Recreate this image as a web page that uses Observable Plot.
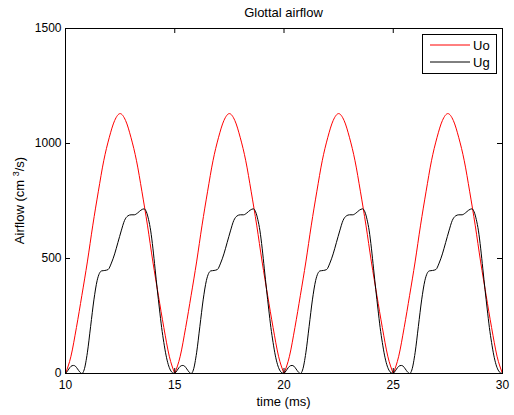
<!DOCTYPE html>
<html>
<head>
<meta charset="utf-8">
<script src="https://cdn.jsdelivr.net/npm/d3@7"></script>
<script src="https://cdn.jsdelivr.net/npm/@observablehq/plot@0.6"></script>
<style>
  html, body { margin: 0; padding: 0; background: #fff; }
  #chart svg { display: block; }
</style>
</head>
<body>
<div id="chart"></div>
<script>
// Start time (ms) of each glottal cycle shown; the pulse repeats every 5 ms.
const cycleStarts = [10, 15, 20, 25];

// Uo: open-phase airflow within one cycle (time offset in ms, cm^3/s)
const uoOffsets = [0, 0.25, 0.5, 0.75, 1.0, 1.25, 1.5, 1.75, 2.0, 2.25, 2.5,
                   2.75, 3.0, 3.25, 3.5, 3.75, 4.0, 4.25, 4.5, 4.75, 5.0];
const uoValues  = [0, 75, 200, 340, 485, 645, 790, 925, 1025, 1100, 1130,
                   1100, 1025, 925, 790, 645, 485, 340, 200, 75, 0];

// Ug: glottal airflow within one cycle (time offset in ms, cm^3/s)
const ugOffsets = [0, 0.1, 0.2, 0.3, 0.37, 0.45, 0.55, 0.65, 0.75, 0.85,
                   1.0, 1.15, 1.3, 1.45, 1.55, 1.65, 1.8, 1.95, 2.1, 2.25,
                   2.4, 2.55, 2.7, 2.85, 3.0, 3.15, 3.3, 3.45, 3.6, 3.7,
                   3.8, 3.9, 4.0, 4.1, 4.2, 4.3, 4.4, 4.5, 4.6, 4.7,
                   4.8, 4.9, 5.0];
const ugValues  = [0, 12, 26, 34, 35, 32, 20, 7, 0, 15,
                   90, 205, 320, 405, 435, 446, 448, 452, 480, 520,
                   570, 620, 665, 685, 690, 690, 698, 710, 716, 703,
                   670, 620, 545, 455, 365, 280, 200, 135, 80, 40,
                   15, 3, 0];

// Axis ticks
const xTicks = [10, 15, 20, 25, 30];
const yTicks = [0, 500, 1000, 1500];

function cycleRows(offsets, values) {
  return cycleStarts.flatMap((start, c) =>
    offsets.map((o, i) => ({t: start + o, v: values[i], cycle: c})));
}
const uoRows = cycleRows(uoOffsets, uoValues);
const ugRows = cycleRows(ugOffsets, ugValues);

const W = 514, H = 415;
const mL = 65, mR = 12, mT = 28, mB = 42;
const plotH = H - mT - mB, plotW = W - mL - mR;
const tick = 5;
const font = "'Liberation Sans', Arial, Helvetica, sans-serif";

const chart = Plot.plot({
  width: W,
  height: H,
  marginLeft: mL,
  marginRight: mR,
  marginTop: mT,
  marginBottom: mB,
  style: {fontFamily: font, fontSize: "12px", color: "#000", background: "#fff"},
  x: {domain: [10, 30]},
  y: {domain: [0, 1500]},
  marks: [
    Plot.line(uoRows, {x: "t", y: "v", z: "cycle", stroke: "#ff0000", strokeWidth: 1, curve: "monotone-x"}),
    Plot.line(ugRows, {x: "t", y: "v", z: "cycle", stroke: "#000000", strokeWidth: 1, curve: "monotone-x"}),
    Plot.frame({stroke: "#000", strokeWidth: 1}),
    // inward ticks on all four sides
    Plot.tickX(xTicks, {x: d => d, insetTop: plotH - tick, stroke: "#000"}),
    Plot.tickX(xTicks, {x: d => d, insetBottom: plotH - tick, stroke: "#000"}),
    Plot.tickY(yTicks, {y: d => d, insetRight: plotW - tick, stroke: "#000"}),
    Plot.tickY(yTicks, {y: d => d, insetLeft: plotW - tick, stroke: "#000"}),
    Plot.axisX(xTicks, {tickSize: 0, tickPadding: 7, label: null, tickFormat: d => String(d), fontSize: 12}),
    Plot.axisY(yTicks, {tickSize: 0, tickPadding: 4, label: null, tickFormat: d => String(d), fontSize: 12})
  ]
});

const svg = d3.select(chart);

// Title
svg.append("text")
  .attr("x", mL + plotW / 2).attr("y", 17)
  .attr("text-anchor", "middle")
  .attr("font-family", font).attr("font-size", 13).attr("fill", "#000")
  .text("Glottal airflow");

// x-axis label
svg.append("text")
  .attr("x", mL + plotW / 2).attr("y", 406)
  .attr("text-anchor", "middle")
  .attr("font-family", font).attr("font-size", 13).attr("fill", "#000")
  .text("time (ms)");

// y-axis label with superscript
const yl = svg.append("text")
  .attr("transform", `translate(24,${mT + plotH / 2}) rotate(-90)`)
  .attr("text-anchor", "middle")
  .attr("font-family", font).attr("font-size", 13).attr("fill", "#000");
yl.append("tspan").text("Airflow (cm ");
yl.append("tspan").attr("font-size", 9).attr("dy", -5).text("3");
yl.append("tspan").attr("dy", 5).text("/s)");

// Legend
const lg = svg.append("g").attr("font-family", font).attr("font-size", 13).attr("text-anchor", "start");
lg.append("rect").attr("x", 422.5).attr("y", 34.5).attr("width", 74).attr("height", 39)
  .attr("fill", "#fff").attr("stroke", "#000").attr("stroke-width", 1);
const entries = [["Uo", "#ff0000"], ["Ug", "#000000"]];
entries.forEach(([name, color], i) => {
  const y = 45 + i * 17;
  lg.append("line").attr("x1", 430).attr("x2", 470).attr("y1", y).attr("y2", y)
    .attr("stroke", color).attr("stroke-width", 1);
  lg.append("text").attr("x", 473).attr("y", y).attr("dy", "0.36em")
    .attr("text-anchor", "start").attr("fill", "#000").text(name);
});

document.getElementById("chart").appendChild(chart);
</script>
</body>
</html>
